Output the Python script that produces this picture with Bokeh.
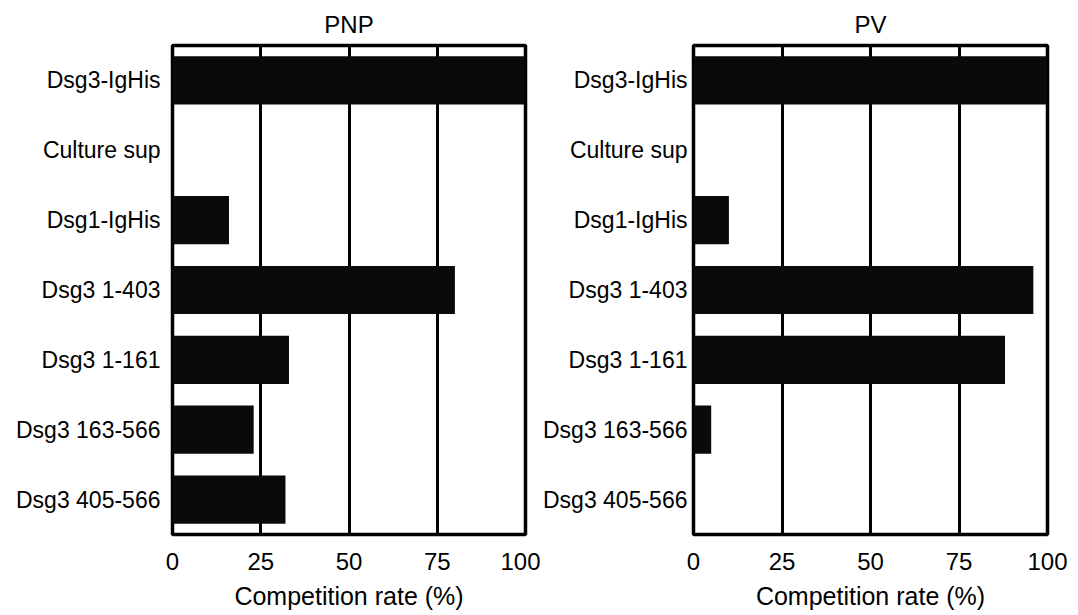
from bokeh.plotting import figure
from bokeh.models import FactorRange, Range1d, FixedTicker, ColumnDataSource
from bokeh.layouts import row
from bokeh.embed import file_html
from bokeh.resources import INLINE

categories = ["Dsg3-IgHis", "Culture sup", "Dsg1-IgHis", "Dsg3 1-403",
              "Dsg3 1-161", "Dsg3 163-566", "Dsg3 405-566"]
pnp_values = [100, 0, 16, 80, 33, 23, 32]
pv_values = [100, 0, 10, 96, 88, 5, 0]
x_ticks = [0, 25, 50, 75, 100]
grid_ticks = [25, 50, 75]

FONT = "Liberation Sans"


def make_panel(title, values, width, border_left, border_right, border_top,
               border_bottom, label_standoff):
    src = ColumnDataSource(dict(cat=categories, val=values))
    p = figure(width=width, height=615, output_backend="svg", toolbar_location=None,
               y_range=FactorRange(*reversed(categories)), x_range=Range1d(0, 100),
               min_border_left=border_left, min_border_right=border_right,
               min_border_top=border_top, min_border_bottom=border_bottom,
               title=title)
    p.title.align = "center"
    p.title.text_font = FONT
    p.title.text_font_style = "normal"
    p.title.text_font_size = "24px"
    p.title.text_color = "black"
    p.title.offset = 0
    p.title.standoff = 16

    p.hbar(y="cat", right="val", left=0, height=0.69, source=src,
           fill_color="#0a0a0a", line_color=None)

    p.outline_line_color = "black"
    p.outline_line_width = 3.5
    p.background_fill_color = "white"
    p.border_fill_color = "white"

    p.ygrid.visible = False
    p.xgrid.ticker = FixedTicker(ticks=grid_ticks)
    p.xgrid.grid_line_color = "black"
    p.xgrid.grid_line_width = 3
    p.xgrid.grid_line_alpha = 1.0

    p.xaxis.ticker = FixedTicker(ticks=x_ticks)
    p.xaxis.axis_label = "Competition rate (%)"
    p.xaxis.axis_label_text_font = FONT
    p.xaxis.axis_label_text_font_style = "normal"
    p.xaxis.axis_label_text_font_size = "25px"
    p.xaxis.axis_label_text_color = "black"
    p.xaxis.axis_label_standoff = 9
    p.xaxis.major_label_text_font = FONT
    p.xaxis.major_label_text_font_size = "24px"
    p.xaxis.major_label_text_color = "black"
    p.xaxis.major_label_standoff = 12
    p.xaxis.axis_line_color = None
    p.xaxis.major_tick_line_color = None
    p.xaxis.minor_tick_line_color = None

    p.yaxis.major_label_text_font = FONT
    p.yaxis.major_label_text_font_size = "23px"
    p.yaxis.major_label_text_color = "black"
    p.yaxis.major_label_standoff = label_standoff
    p.yaxis.axis_line_color = None
    p.yaxis.major_tick_line_color = None
    p.yaxis.minor_tick_line_color = None
    return p


left = make_panel("PNP", pnp_values, 540, 172, 15, 40, 81, 6)
right = make_panel("PV", pv_values, 538, 151, 31, 43, 80, 0)

layout = row(left, right)
open("out.html", "w").write(file_html(layout, INLINE))
